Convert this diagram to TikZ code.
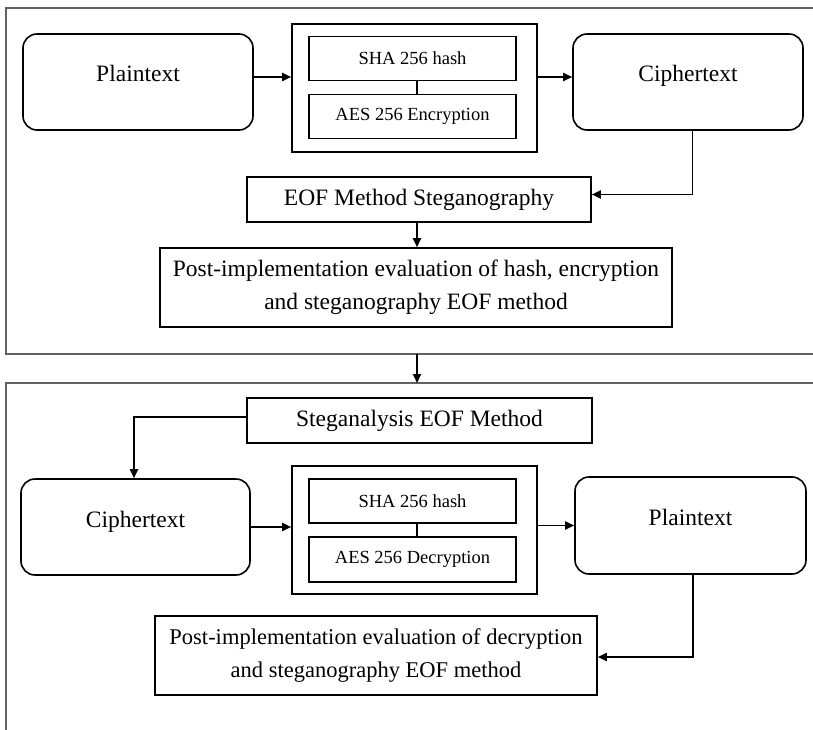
\documentclass[tikz,border=0pt]{standalone}
\usepackage{fontspec}
\setmainfont{Liberation Serif}
\usetikzlibrary{arrows.meta}
\begin{document}
\begin{tikzpicture}[x=1pt,y=1pt,
  box/.style={draw=black, line width=1.6pt, inner sep=0pt, font=\fontsize{23.5}{33}\selectfont, align=center},
  rbox/.style={draw=black, line width=1.6pt, inner sep=0pt, rounded corners=14pt, font=\fontsize{23.5}{33}\selectfont, text height=0pt, text depth=0pt, minimum width=230pt, minimum height=96pt},
  ibox/.style={draw=black, line width=1.9pt, inner sep=0pt, font=\fontsize{18.5}{22}\selectfont, minimum width=207pt, minimum height=44pt},
  obox/.style={draw=black, line width=1.6pt, inner sep=0pt, minimum width=245pt, minimum height=128pt},
  arr/.style={line width=1.8pt, -{Triangle[length=9pt,width=8pt]}},
  link/.style={line width=1.8pt},
  frame/.style={draw=black!62, line width=1.6pt}]
\useasboundingbox (0,0) rectangle (813,-730);

% frames
\draw[frame] (813,-8) -- (6,-8) -- (6,-354) -- (813,-354);
\draw[frame] (813,-383) -- (6,-383) -- (6,-730);
\coordinate (f1) at (417,-354);
\coordinate (f2) at (417,-383);
\draw[arr] (f1) -- (f2);

% top section
\node[rbox] (p1) at (138,-82) {Plaintext};
\node[obox] (c1) at (414.5,-88) {};
\node[ibox] (sha1) at (412.5,-58.5) {SHA 256 hash};
\node[ibox] (aes1) at (412.5,-116.5) {AES 256 Encryption};
\node[rbox] (ct1) at (688,-82) {Ciphertext};
\node[box, minimum width=344pt, minimum height=45pt] (eof) at (419,-199.5) {EOF Method Steganography};
\node[box, minimum width=512pt, minimum height=79pt] (post1) at (416,-287.5)
  {Post-implementation evaluation of hash, encryption\\and steganography EOF method};

\draw[arr] ([yshift=5pt]p1.east) -- ([yshift=5pt]p1.east -| c1.west);
\draw[arr] ([yshift=5pt]ct1.west -| c1.east) -- ([yshift=5pt]ct1.west);
\draw[link] ([xshift=4.5pt]sha1.south) -- ([xshift=4.5pt]aes1.north);
\draw[arr] ([xshift=4.5pt]ct1.south) |- ([yshift=5pt]eof.east);
\draw[arr] ([xshift=-2pt]eof.south) -- ([xshift=-2pt]eof.south |- post1.north);

% bottom section
\node[box, minimum width=345pt, minimum height=45pt] (steg) at (419.5,-420.5) {Steganalysis EOF Method};
\node[rbox, minimum width=229pt] (ct2) at (135.5,-527) {Ciphertext};
\node[obox] (c2) at (414.5,-530) {};
\node[ibox] (sha2) at (412.5,-501) {SHA 256 hash};
\node[ibox, minimum height=45pt] (aes2) at (412.5,-559.5) {AES 256 Decryption};
\node[rbox, minimum width=231pt, minimum height=97pt] (pt2) at (690.5,-525.5) {Plaintext};
\node[box, minimum width=442pt, minimum height=79pt, font=\fontsize{22.5}{33}\selectfont] (post2) at (376,-655.5)
  {Post-implementation evaluation of decryption\\and steganography EOF method};

\draw[arr] ([yshift=3.5pt]steg.west) -| ([xshift=-1.5pt]ct2.north);
\draw[arr] (ct2.east) -- (ct2.east -| c2.west);
\draw[link] ([xshift=4.5pt]sha2.south) -- ([xshift=4.5pt]aes2.north);
\draw[arr] (pt2.west -| c2.east) -- (pt2.west);
\draw[arr] ([xshift=2.5pt]pt2.south) |- ([yshift=-1.5pt]post2.east);
\end{tikzpicture}
\end{document}
